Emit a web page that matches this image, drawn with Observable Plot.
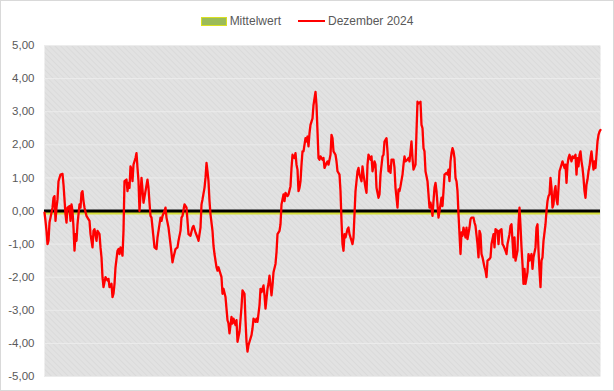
<!DOCTYPE html>
<html>
<head>
<meta charset="utf-8">
<script src="https://cdn.jsdelivr.net/npm/d3@7"></script>
<script src="https://cdn.jsdelivr.net/npm/@observablehq/plot@0.6"></script>
<style>
  html, body { margin: 0; padding: 0; background: #fff; }
  #wrap { width: 614px; height: 391px; box-sizing: border-box; border: 1px solid #d9d9d9; background: #fff; font-family: "Liberation Sans", "DejaVu Sans", sans-serif; }
  #legend { height: 37px; display: flex; justify-content: center; align-items: center; gap: 17px; font-size: 12px; color: #595959; padding-top: 3px; box-sizing: border-box; }
  .item { display: flex; align-items: center; gap: 3px; }
  .sw-area { width: 24px; height: 7px; background: #9bbb59; border: 1px solid #d9e021; }
  .sw-line { width: 27px; height: 2px; background: #ff0000; }
  svg { display: block; }
</style>
</head>
<body>
<div id="wrap">
  <div id="legend"></div>
  <div id="chart"></div>
</div>
<script>
// Series names
const seriesNames = ["Mittelwert", "Dezember 2024"];
// Trading day index
const tag = [
  0,1,2,3,4,5,6,8,9,10,
  11,12,13,14,16,18,19,20,21,22,
  23,25,26,27,28,29,30,31,32,33,
  35,36,37,38,39,40,42,43,45,46,
  48,49,50,52,53,55,56,57,58,59,
  61,63,64,65,67,68,69,70,71,73,
  74,75,76,77,78,79,80,82,83,84,
  85,86,87,88,89,91,92,93,94,95,
  97,98,99,101,103,104,105,106,107,108,
  110,112,113,114,116,117,118,120,121,122,
  124,126,128,129,131,133,134,136,137,138,
  140,142,143,144,146,148,149,151,153,154,
  156,157,158,160,161,162,163,164,165,166,
  168,169,170,172,173,174,176,177,178,179,
  181,183,184,185,187,188,189,191,192,193,
  195,197,198,200,201,202,203,204,205,207,
  208,209,211,212,213,215,216,217,219,220,
  221,223,224,225,227,228,229,231,232,233,
  235,236,237,239,240,241,243,244,246,247,
  248,250,251,252,253,254,255,256,257,258,
  259,261,262,263,264,265,266,268,269,270,
  271,272,273,274,275,276,278,279,280,282,
  283,284,286,287,288,289,291,292,293,295,
  296,297,298,299,300,301,303,304,305,307,
  308,309,310,311,313,314,315,317,318,319,
  321,322,323,324,326,327,328,330,331,332,
  334,335,336,338,339,340,342,343,344,345,
  346,347,349,350,351,353,354,355,356,358,
  359,360,361,363,364,365,367,368,369,371,
  372,373,374,376,377,378,379,380,381,383,
  384,385,386,387,388,389,390,391,392,393,
  394,395,397,398,399,400,402,403,404,405,
  406,407,408,409,410,411,412,413,414,415,
  416,417,418,419,421,422,423,425,426,427,
  429,430,431,433,434,435,436,437,438,440,
  441,442,443,445,446,447,449,450,451,453,
  454,455,457,458,459,461,462,463,465,466,
  467,469,470,471,473,474,475,476,477,478,
  479,480,481,483,484,485,487,488,489,491,
  492,493,494,495,496,497,498,499,501,502,
  503,504,505,506,507,508,509,510,511,512,
  513,514,515,516,518,519,520,521,522,523,
  524,525,527,528,529,531,532,533,534,535,
  536,537,538,539,540,541,542,543,544,545,
  546,547,548,549,550,551,552,553,554,555,
  556
];
// Abweichung (value) per day, Dezember 2024
const wert = [
  -0.05,-0.3,-0.6,-1.0,-0.9,-0.35,-0.2,0.1,0.4,0.45,
  -0.3,0.1,0.35,0.9,1.1,1.12,0.8,0.35,-0.1,-0.35,
  0.1,0.15,-0.3,0.2,0.0,-0.5,-1.2,-0.7,-0.9,-0.4,
  0.2,0.1,0.55,0.6,0.3,0.1,-0.15,-0.2,-0.3,-0.7,
  -1.1,-0.6,-0.55,-0.9,-0.6,-0.7,-1.1,-1.4,-2.0,-2.3,
  -2.0,-2.1,-2.05,-2.3,-2.2,-2.6,-2.5,-2.2,-1.7,-1.2,
  -1.15,-1.3,-1.1,-1.2,-1.35,-0.6,0.9,0.95,0.6,0.85,
  0.7,1.35,1.25,0.9,1.4,1.6,1.75,1.3,0.9,0.0,
  1.0,0.65,0.25,0.6,0.95,0.7,0.25,-0.15,-0.2,-0.5,
  -1.1,-1.15,-0.8,-0.6,-0.2,-0.3,-0.15,0.0,0.1,-0.2,
  -0.5,-1.0,-1.55,-1.4,-1.15,-1.1,-0.9,-0.6,-0.2,-0.15,
  0.2,0.1,-0.3,-0.7,-0.75,-0.5,-0.45,-0.65,-0.8,-0.9,
  -0.5,0.2,0.35,0.7,1.0,1.45,1.2,0.9,0.3,-0.1,
  -0.6,-1.05,-1.3,-1.7,-1.8,-1.7,-1.9,-2.0,-2.5,-2.35,
  -2.6,-3.3,-3.4,-3.7,-3.2,-3.4,-3.25,-3.45,-3.3,-3.95,
  -3.65,-2.9,-2.4,-2.5,-3.3,-3.95,-4.25,-4.05,-3.95,-3.75,
  -3.55,-3.25,-3.35,-3.25,-3.35,-2.85,-2.35,-2.45,-2.25,-2.55,
  -2.95,-2.35,-2.2,-1.95,-2.55,-2.25,-1.85,-1.6,-1.25,-0.7,
  -0.6,-0.4,0.2,0.5,0.3,0.55,0.45,0.5,0.75,1.3,
  1.7,1.6,1.75,1.4,1.25,0.6,0.7,0.9,1.4,1.8,
  1.8,2.2,2.1,2.25,1.95,2.35,2.6,2.8,3.2,3.4,
  3.6,3.2,2.4,1.6,1.55,1.65,1.55,1.6,1.3,1.45,
  1.5,1.4,1.7,2.3,2.2,1.8,1.7,1.5,1.2,1.1,
  0.6,-0.3,-1.0,-1.2,-0.7,-0.8,-0.55,-0.5,-0.7,-0.9,
  -1.0,-0.8,-0.1,0.6,1.2,1.3,1.1,0.9,1.35,1.1,
  0.7,0.55,1.4,1.7,1.55,1.65,1.2,1.5,1.4,0.7,
  0.4,0.5,1.1,1.65,1.7,2.1,2.2,1.8,1.2,1.35,
  1.15,1.55,1.55,1.3,0.7,0.1,0.65,0.6,0.75,1.1,
  1.4,1.65,1.5,1.55,1.6,1.5,2.1,1.6,1.25,1.4,
  2.4,3.3,3.25,3.3,2.6,2.5,1.9,1.8,1.2,0.9,
  0.5,0.1,0.25,0.1,-0.15,0.3,0.7,0.85,0.6,0.2,
  -0.2,0.0,0.4,0.15,0.6,1.1,1.15,1.1,1.25,0.9,
  1.5,1.75,1.9,1.8,1.6,1.0,0.9,0.6,-0.1,-0.7,
  -1.3,-0.65,-0.75,-0.5,-0.8,-0.5,-0.85,-0.5,-0.25,-0.2,
  -0.2,-0.35,-0.45,-1.0,-1.4,-0.6,-0.7,-1.3,-1.4,-1.7,
  -1.8,-2.0,-1.5,-1.45,-1.4,-1.0,-0.7,-1.1,-0.55,-0.6,
  -1.0,-0.6,-0.55,-1.0,-1.05,-1.2,-1.3,-1.0,-0.7,-0.45,
  -0.4,-1.4,-0.8,-1.5,-1.2,-0.4,0.1,-0.45,-1.1,-1.6,
  -2.2,-1.75,-2.2,-1.85,-1.3,-1.5,-1.3,-1.75,-1.4,-1.1,
  -0.5,-0.4,-1.2,-1.8,-2.3,-1.5,-1.4,-0.9,-0.4,0.0,
  0.3,0.45,0.5,1.0,0.7,0.1,0.2,0.6,0.75,0.35,
  0.2,0.7,1.2,1.3,1.5,1.4,1.3,1.4,0.85,1.4,
  1.6,1.7,1.5,1.65,1.6,1.7,1.1,1.6,1.35,1.7,
  1.8,1.5,1.3,1.0,0.6,0.4,0.8,0.95,1.2,1.35,
  1.6,1.8,1.5,1.25,1.5,1.3,1.7,2.1,2.3,2.4,
  2.45
];
// Mittelwert level (mean band, from 0 down to this value)
const mittelwert = -0.12;
// Y tick values
const yTicks = [-5, -4, -3, -2, -1, 0, 1, 2, 3, 4, 5];
// x extent (first and last trading day)
const xDomain = [0, 556];
</script>
<script>
const data = tag.map((t, i) => ({tag: t, wert: wert[i]}));
const meanData = xDomain.map(t => ({tag: t, lo: mittelwert}));
const fmt = d => (d < 0 ? "-" : "") + Math.abs(d).toFixed(2).replace(".", ",");

const svg = Plot.plot({
  width: 612,
  height: 352,
  marginTop: 7,
  marginBottom: 14,
  marginLeft: 43,
  marginRight: 13,
  style: {fontFamily: "'Liberation Sans', 'DejaVu Sans', sans-serif", fontSize: "11.5px", color: "#595959", background: "transparent", overflow: "visible"},
  x: {domain: xDomain, axis: null},
  y: {domain: [-5, 5], axis: null},
  marks: [
    Plot.frame({fill: "url(#hatch)", stroke: null}),
    Plot.gridY(yTicks, {stroke: "#ececec", strokeOpacity: 1, strokeWidth: 1}),
    Plot.areaY(meanData, {x: "tag", y1: 0, y2: "lo", fill: "#d6df3b"}),
    Plot.ruleY([0], {stroke: "#000000", strokeWidth: 3}),
    Plot.line(data, {x: "tag", y: "wert", stroke: "#ff0000", strokeWidth: 2.3, curve: "linear"}),
    Plot.axisY(yTicks, {tickSize: 0, tickPadding: 10, tickFormat: fmt, label: null, fill: "#595959"})
  ]
});

const ns = "http://www.w3.org/2000/svg";
const defs = document.createElementNS(ns, "defs");
defs.innerHTML = '<pattern id="hatch" width="4" height="4" patternUnits="userSpaceOnUse" patternTransform="rotate(-45)">' +
  '<rect width="4" height="4" fill="#e2e2e2"></rect>' +
  '<line x1="0" y1="0" x2="0" y2="4" stroke="#d6d6d6" stroke-width="1.2"></line></pattern>';
svg.insertBefore(defs, svg.firstChild);
document.getElementById("chart").appendChild(svg);

// Legend
const legend = document.getElementById("legend");
const it1 = document.createElement("div");
it1.className = "item";
it1.innerHTML = '<span class="sw-area"></span><span>' + seriesNames[0] + '</span>';
const it2 = document.createElement("div");
it2.className = "item";
it2.innerHTML = '<span class="sw-line"></span><span>' + seriesNames[1] + '</span>';
legend.appendChild(it1);
legend.appendChild(it2);
</script>
</body>
</html>
